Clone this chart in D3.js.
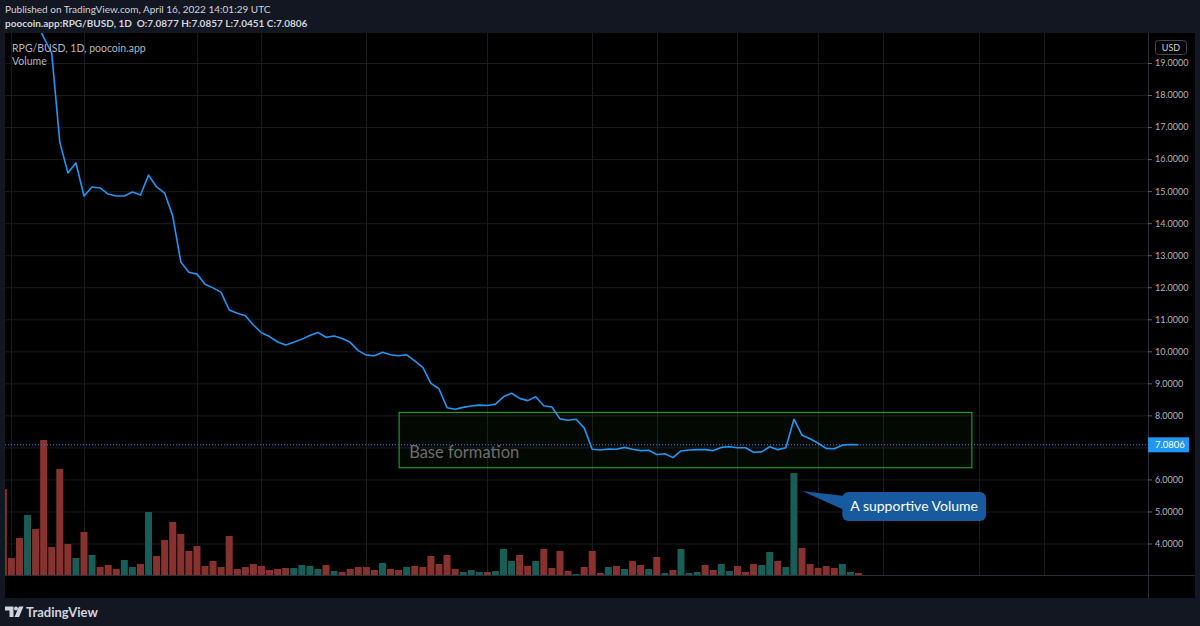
<!DOCTYPE html>
<html><head><meta charset="utf-8">
<script src="https://cdn.jsdelivr.net/npm/d3@7"></script>
<style>
html,body{margin:0;padding:0;background:#131722;overflow:hidden;}
svg{display:block;font-family:Lato,"Open Sans",sans-serif;}
</style></head><body>
<svg id="c" width="1200" height="626"></svg>
<script>
// ---------- data ----------
const startDate = "2021-12-31";
const closes = [
  22.5,
  21.8,22.4,21.2,20.4,19.8,19.31,16.53,15.57,15.88,14.85,15.13,15.10,14.91,14.85,14.85,14.97,14.88,15.50,15.13,14.94,14.22,12.79,12.47,12.41,12.09,11.98,11.84,11.29,11.19,11.11,10.82,
  10.58,10.46,10.29,10.20,10.28,10.38,10.49,10.59,10.44,10.48,10.40,10.28,10.02,9.88,9.86,9.97,9.89,9.86,9.89,9.70,9.50,9.00,8.83,8.24,8.19,8.25,8.29,8.32,
  8.31,8.35,8.58,8.69,8.53,8.46,8.58,8.30,8.26,7.89,7.85,7.88,7.61,6.94,6.92,6.95,6.94,7.00,6.94,6.90,6.91,6.78,6.80,6.68,6.89,6.92,6.93,6.93,6.90,7.00,7.02,
  6.99,6.99,6.85,6.86,7.02,6.93,6.99,7.88,7.38,7.27,7.13,6.97,6.96,7.07,7.09,7.0806
];
const volumes = [
  86,
  17,37,60,46,135,28,106,31,17,43,20,8,10,6,15,8,11,63,19,35,53,41,24,29,9,14,8,39,6,8,11,
  9,5,6,7,7,10,9,6,10,4,3,6,8,8,5,12,6,5,8,9,8,19,11,20,6,3,5,3,
  3,4,26,14,20,9,14,26,7,24,4,1,8,24,2,8,9,6,14,10,6,18,2,5,26,2,3,10,5,11,4,
  9,3,11,10,23,14,8,102,27,11,7,9,7,11,3,2
];
// u = up day (teal volume), d = down day (red volume), one string per month
const volumeDirectionByMonth = [
  "d",                                  // Dec 31
  "ddudddddududdduudu" + "ddddddddddddd", // Jan
  "ddddu" + "uuudu" + "ddddd" + "udduddddd" + "duuu", // Feb
  "duuudduddddudddudud" + "dududuuudduu", // Mar
  "ddduuduuddddduud"                    // Apr 1-16
];
const volumeDirection = volumeDirectionByMonth.join("").split("");
const xTickDates = ["2022-01-01","2022-01-10","2022-01-24","2022-02-01","2022-02-14","2022-03-01","2022-03-14","2022-03-22","2022-04-01","2022-04-11","2022-04-19","2022-05-01","2022-05-09"];
const xTickLabels = ["2022","10","24","Feb","14","Mar","14","22","Apr","11","19","May","9"];
const yTicks = [4,5,6,7,8,9,10,11,12,13,14,15,16,17,18,19];
const lastClose = 7.0806;
const baseZone = {from:"2022-02-18", to:"2022-04-30", low:6.38, high:8.11, label:"Base formation"};
const calloutNote = {anchorDate:"2022-04-09", anchorPrice:5.64, boxDate:"2022-04-14", boxPrice:5.61, text:"A supportive Volume"};
const headerLine1 = "Published on TradingView.com, April 16, 2022 14:01:29 UTC";
const headerLine2 = "poocoin.app:RPG/BUSD, 1D  O:7.0877 H:7.0857 L:7.0451 C:7.0806";
const legendLines = ["RPG/BUSD, 1D, poocoin.app","Volume"];

// ---------- setup ----------
const svg = d3.select("#c");
const parse = d3.utcParse("%Y-%m-%d");
const dates = d3.utcDay.range(parse(startDate), d3.utcDay.offset(parse(startDate), closes.length));
const PL=5, PR=1148, PT=33, PB=575;

const x = d3.scaleUtc().domain([parse("2022-01-01"), parse("2022-05-09")]).range([11.4, 1044]);
const y = d3.scaleLinear().domain([4, 19]).range([543.5, 63]);
const vy = d3.scaleLinear().domain([0, 135]).range([PB, PB - 135]);

// backgrounds
svg.append("rect").attr("width",1200).attr("height",626).attr("fill","#131722");
svg.append("rect").attr("x",5).attr("y",33).attr("width",1190).attr("height",565).attr("fill","#000");

const defs = svg.append("defs");
defs.append("clipPath").attr("id","plotclip").append("rect")
  .attr("x",PL).attr("y",PT).attr("width",PR-PL).attr("height",PB-PT);
defs.append("clipPath").attr("id","timeclip").append("rect")
  .attr("x",PL).attr("y",PB).attr("width",PR-PL).attr("height",23);

// grid
const grid = svg.append("g");
grid.selectAll("line.h").data(yTicks).join("line")
  .attr("x1",PL).attr("x2",PR).attr("y1",d=>y(d)+0.5).attr("y2",d=>y(d)+0.5)
  .attr("stroke","#191b21");
grid.selectAll("line.v").data(xTickDates).join("line")
  .attr("x1",d=>Math.round(x(parse(d)))+0.5).attr("x2",d=>Math.round(x(parse(d)))+0.5)
  .attr("y1",PT).attr("y2",PB).attr("stroke","#191b21");

const plot = svg.append("g").attr("clip-path","url(#plotclip)");

// volume bars
plot.append("g").selectAll("rect").data(volumes).join("rect")
  .attr("x",(d,i)=>x(dates[i]) - 3.5)
  .attr("width",7)
  .attr("y",d=>vy(d))
  .attr("height",d=>PB - vy(d))
  .attr("fill",(d,i)=>volumeDirection[i]==="u" ? "#185d56" : "#88322f");

// base zone
const bx0 = x(parse(baseZone.from)), bx1 = x(parse(baseZone.to));
const by0 = y(baseZone.high), by1 = y(baseZone.low);
plot.append("rect").attr("x",bx0+0.5).attr("y",by0+0.5).attr("width",bx1-bx0).attr("height",by1-by0)
  .attr("fill","rgba(60,160,60,0.05)").attr("stroke","#22b822").attr("stroke-width",1);
plot.append("text").attr("x",bx0+10.5).attr("y",by1-9)
  .attr("font-size",16.5).attr("fill","#6c6e6c").text(baseZone.label);

// last price dotted line
plot.append("line").attr("x1",PL).attr("x2",PR).attr("y1",y(lastClose)).attr("y2",y(lastClose))
  .attr("stroke","#2196f3").attr("stroke-dasharray","1 2").attr("stroke-width",1);

// price line
const line = d3.line().x((d,i)=>x(dates[i])).y(d=>y(d));
plot.append("path").datum(closes).attr("d",line)
  .attr("fill","none").attr("stroke","#2196f3").attr("stroke-width",1.6).attr("stroke-linejoin","round");

// callout
const ax = x(parse(calloutNote.anchorDate)), ay = y(calloutNote.anchorPrice);
const cx0 = x(parse(calloutNote.boxDate)), cy0 = y(calloutNote.boxPrice);
const ctext = svg.append("text").attr("font-size",14).attr("fill","#ffffff").text(calloutNote.text);
const tw = ctext.node().getComputedTextLength();
const cw = tw + 16, ch = 29;
const cg = svg.insert("g", () => ctext.node());
cg.append("path").attr("d",`M${ax},${ay} L${cx0+2},${cy0+4} L${cx0+2},${cy0+18} Z`).attr("fill","#175aa0");
cg.append("rect").attr("x",cx0).attr("y",cy0).attr("width",cw).attr("height",ch).attr("rx",6)
  .attr("fill","#175aa0");
ctext.attr("x",cx0+cw/2).attr("y",cy0+19).attr("text-anchor","middle");

// axis borders
svg.append("line").attr("x1",PR+0.5).attr("x2",PR+0.5).attr("y1",PT).attr("y2",598).attr("stroke","#2a2e39");
svg.append("line").attr("x1",PL).attr("x2",1195).attr("y1",PB+0.5).attr("y2",PB+0.5).attr("stroke","#2a2e39");

// price axis (labels hidden where the last-price tag sits)
const labelTicks = yTicks.filter(v => Math.abs(y(v) - y(lastClose)) > 12);
const yAxis = svg.append("g").attr("transform",`translate(${PR},0)`)
  .call(d3.axisRight(y).tickValues(labelTicks).tickFormat(d3.format(".4f")).tickSize(4).tickPadding(3));
yAxis.select(".domain").remove();
yAxis.selectAll(".tick line").attr("stroke","#5d606b");
yAxis.selectAll(".tick text").attr("fill","#b2b5be").attr("font-size",9).attr("font-family","Lato,'Open Sans',sans-serif");

// last price label
svg.append("rect").attr("x",PR).attr("y",y(lastClose)-7.5).attr("width",41).attr("height",15).attr("fill","#2196f3");
svg.append("text").attr("x",PR+7).attr("y",y(lastClose)+3.5).attr("font-size",9.5).attr("fill","#ffffff")
  .text(d3.format(".4f")(lastClose));

// USD box
svg.append("rect").attr("x",1155.5).attr("y",40.5).attr("width",31).attr("height",14).attr("rx",3)
  .attr("fill","none").attr("stroke","#434651");
svg.append("text").attr("x",1171).attr("y",51).attr("text-anchor","middle").attr("font-size",9)
  .attr("fill","#d1d4dc").text("USD");

// time axis
const xAxis = svg.append("g").attr("transform",`translate(0,${PB})`).attr("clip-path","url(#timeclip)")
  .call(d3.axisBottom(x).tickValues(xTickDates.map(parse)).tickFormat((d,i)=>xTickLabels[i]).tickSize(4).tickPadding(3));
xAxis.select(".domain").remove();
xAxis.selectAll(".tick line").attr("stroke","#5d606b");
xAxis.selectAll(".tick text").attr("fill","#b2b5be").attr("font-size",10).attr("font-family","Lato,'Open Sans',sans-serif");

// legend
svg.selectAll("text.legend").data(legendLines).join("text").attr("class","legend")
  .attr("x",12).attr("y",(d,i)=>52+i*12.5).attr("font-size",10.5).attr("fill","#b2b5be").text(d=>d);

// header
svg.append("text").attr("x",5).attr("y",13).attr("font-size",10).attr("fill","#d1d4dc").text(headerLine1);
svg.append("text").attr("x",5).attr("y",26.5).attr("font-size",10).attr("font-weight","bold").attr("fill","#d1d4dc")
  .attr("xml:space","preserve").text(headerLine2);

// footer logo
const logo = svg.append("g").attr("fill","#d1d4dc");
logo.append("path").attr("d","M5,606.5 H13.5 V617 H9.5 V610.5 H5 Z");
logo.append("circle").attr("cx",16).attr("cy",608.5).attr("r",2);
logo.append("path").attr("d","M19,606.5 H23.5 L19,617 H14.5 Z");
logo.append("text").attr("x",26).attr("y",617).attr("font-size",13).attr("font-weight","bold").text("TradingView");
</script>
</body></html>
